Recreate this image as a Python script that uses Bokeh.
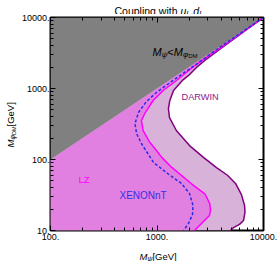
import math
from bokeh.plotting import figure
from bokeh.models import LogAxis, FixedTicker, Label, Range1d
from bokeh.layouts import row, column
from bokeh.embed import file_html
from bokeh.resources import INLINE

# ---------------- data ----------------
diag_mpsi = [100, 10000]
diag_mphi = [100, 10000]
top_mphi = [10000, 10000]

darwin_mpsi = [10000, 6210, 4040, 2920, 2350, 2020, 1730, 1430, 1320, 1280, 1310, 1520, 2020,
               2730, 3620, 4590, 5460, 6210, 6640, 6700, 6490, 5950, 5230, 4900]
darwin_mphi = [10000, 5960, 3720, 2600, 1980, 1570, 1300, 940, 680, 520, 390, 256, 157,
               107, 77, 60, 46, 32, 22.5, 18, 13.8, 12.2, 11, 10]

lz_mpsi = [10000, 6210, 4040, 2920, 2250, 1524, 1143, 920, 768, 714, 741, 855, 989, 1102,
           1368, 2109, 2812, 3134, 3177, 3111, 2792, 2453, 2249]
lz_mphi = [10000, 6050, 3850, 2735, 2075, 1297, 937, 677, 445, 354, 256, 175, 134, 108,
           78, 45.5, 32.9, 23.8, 19.1, 16.3, 13.8, 11.4, 10]

xenon_mpsi = [10000, 4040, 2350, 1370, 989, 796, 670, 621, 643, 714, 796, 927, 1256,
              1698, 2018, 2178, 2153, 1977, 1774]
xenon_mphi = [10000, 3970, 2210, 1256, 879, 656, 459, 321, 232, 168, 130, 91, 63.5,
              45.9, 33.2, 22.5, 16.8, 12.6, 10]

corner_mpsi = [100, 100]
corner_mphi = [10, 100]

x_ticks = [100, 1000, 10000]
x_tick_labels = ["100.", "1000.", "10000."]
y_ticks = [10, 100, 1000, 10000]
y_tick_labels = ["10.", "100.", "1000.", "10000."]

FONT = "Liberation Sans"

p = figure(x_axis_type="log", y_axis_type="log",
           x_range=Range1d(100, 10000), y_range=Range1d(10, 10000),
           frame_width=213, frame_height=213,
           min_border_left=31, min_border_right=16, min_border_top=3, min_border_bottom=16,
           output_backend="svg", toolbar_location=None, title=None,
           background_fill_color="white", border_fill_color="white")
p.xgrid.visible = False
p.ygrid.visible = False
p.outline_line_color = "black"
p.outline_line_width = 2

# DARWIN region (light purple)
p.patch(darwin_mpsi + corner_mpsi, darwin_mphi + corner_mphi,
        fill_color="#D9B2D9", line_color=None)
# LZ region
p.patch(lz_mpsi + corner_mpsi, lz_mphi + corner_mphi,
        fill_color="#E280E2", line_color=None)
# excluded triangle
p.varea(x=diag_mpsi, y1=diag_mphi, y2=top_mphi, fill_color="#808080")

p.line(darwin_mpsi, darwin_mphi, line_color="#800080", line_width=1.5)
p.line(lz_mpsi, lz_mphi, line_color="#FF00FF", line_width=1.5)
p.line(xenon_mpsi, xenon_mphi, line_color="#2B2BE6", line_width=1.5, line_dash="3 2")

x_minor = [k * 10 ** e for e in (2, 3) for k in range(2, 10)]
y_minor = [k * 10 ** e for e in (1, 2, 3) for k in range(2, 10)]


def style_axis(ax, ticks, minor, labels, show):
    ax.ticker = FixedTicker(ticks=ticks, minor_ticks=minor)
    ax.axis_line_color = None
    ax.major_tick_in = 5
    ax.major_tick_out = 0
    ax.minor_tick_in = 3
    ax.minor_tick_out = 0
    ax.major_tick_line_color = "black"
    ax.minor_tick_line_color = "black"
    ax.major_tick_line_width = 1
    ax.minor_tick_line_width = 1
    ax.major_label_text_font = FONT
    if show:
        ax.major_label_overrides = {t: l for t, l in zip(ticks, labels)}
        ax.major_label_text_font_size = "9px"
        ax.major_label_text_color = "black"
    else:
        ax.major_label_overrides = {t: "" for t in ticks}
        ax.major_label_text_font_size = "1px"
        ax.major_label_text_alpha = 0
        ax.major_label_standoff = 0


style_axis(p.xaxis[0], x_ticks, x_minor, x_tick_labels, True)
p.xaxis[0].major_label_standoff = 3
style_axis(p.yaxis[0], y_ticks, y_minor, y_tick_labels, True)
p.yaxis[0].major_label_standoff = 1

top_ax = LogAxis()
style_axis(top_ax, x_ticks, x_minor, x_tick_labels, False)
p.add_layout(top_ax, "above")
right_ax = LogAxis()
style_axis(right_ax, y_ticks, y_minor, y_tick_labels, False)
p.add_layout(right_ax, "right")


def text_strip(w, h, left=0, right=0):
    f = figure(frame_width=w, frame_height=h, min_border=0,
               min_border_left=left, min_border_right=right,
               x_range=Range1d(0, w), y_range=Range1d(0, h),
               x_axis_location=None, y_axis_location=None,
               output_backend="svg", toolbar_location=None, title=None,
               background_fill_color="white", border_fill_color="white")
    f.outline_line_color = None
    f.grid.visible = False
    return f


# strips share the main frame's horizontal extent (frames are aligned in a column)
title_fig = text_strip(213, 14, left=31, right=16)
xlab_fig = text_strip(213, 15, left=31, right=16)
ylab_fig = text_strip(18, 261)

# --------------- rich text helper ---------------
W = {' ': 0.278, ',': 0.278, '.': 0.278, '<': 0.584, '[': 0.278, ']': 0.278,
     'C': 0.722, 'D': 0.722, 'G': 0.778, 'L': 0.556, 'M': 0.833, 'V': 0.667,
     'e': 0.556, 'o': 0.556, 'u': 0.556, 'p': 0.556, 'l': 0.222, 'i': 0.222,
     'n': 0.556, 'g': 0.556, 'w': 0.722, 't': 0.278, 'h': 0.556, 'd': 0.556,
     'ψ': 0.712, 'φ': 0.650}


def rich(fig, x, y, parts, color="black", rotated=False):
    # x, y: start (left end) of the baseline, in screen px of the frame
    off = 0.0
    for t, s, it, dy in parts:
        w = sum(W.get(c, 0.556) for c in t) * s
        if rotated:
            lx, ly, ang = x - dy, y + off, math.pi / 2
        else:
            lx, ly, ang = x + off, y + dy, 0.0
        fig.add_layout(Label(x=lx, y=ly, x_units="screen", y_units="screen", text=t,
                             angle=ang, text_font=FONT, text_font_size=f"{s}px",
                             text_font_style="italic" if it else "normal",
                             text_color=color, text_align="left",
                             text_baseline="alphabetic"))
        off += w


# title (left end at page x 113)
rich(title_fig, 64, 3.5, [("Coupling with ", 10.5, False, 0), ("u", 10.5, True, 0),
                          ("L", 7.5, True, -2), (",", 10.5, False, 0), ("d", 10.5, True, 0),
                          ("L", 7.5, True, -2)])
# x label (left end at page x 138)
rich(xlab_fig, 89, 5, [("M", 9.5, True, 0), ("ψ", 7, True, -2), ("[GeV]", 9.5, False, 0)])
# y label
rich(ylab_fig, 10, 114, [("M", 9.5, True, 0), ("φ", 7, True, -2), ("DM", 5.5, False, -3.5),
                         (" [GeV]", 9.5, False, 0)], rotated=True)
# inner label
rich(p, 102, 179, [("M", 11, True, 0), ("ψ", 8, True, -2.5), ("<", 11, False, 0),
                   ("M", 11, True, 0), ("φ", 8, True, -2.5), ("DM", 6, False, -4)])

p.add_layout(Label(x=131, y=129, x_units="screen", y_units="screen", text="DARWIN",
                   text_font=FONT, text_font_size="9.2px", text_color="#8B1A8B"))
p.add_layout(Label(x=69, y=30, x_units="screen", y_units="screen", text="XENONnT",
                   text_font=FONT, text_font_size="10px", text_color="#3030E6"))
p.add_layout(Label(x=28, y=46, x_units="screen", y_units="screen", text="LZ",
                   text_font=FONT, text_font_size="9.5px", text_color="#FF00FF"))

layout = row(ylab_fig, column(title_fig, p, xlab_fig, spacing=0), spacing=0)

open("out.html", "w").write(file_html(layout, INLINE))
